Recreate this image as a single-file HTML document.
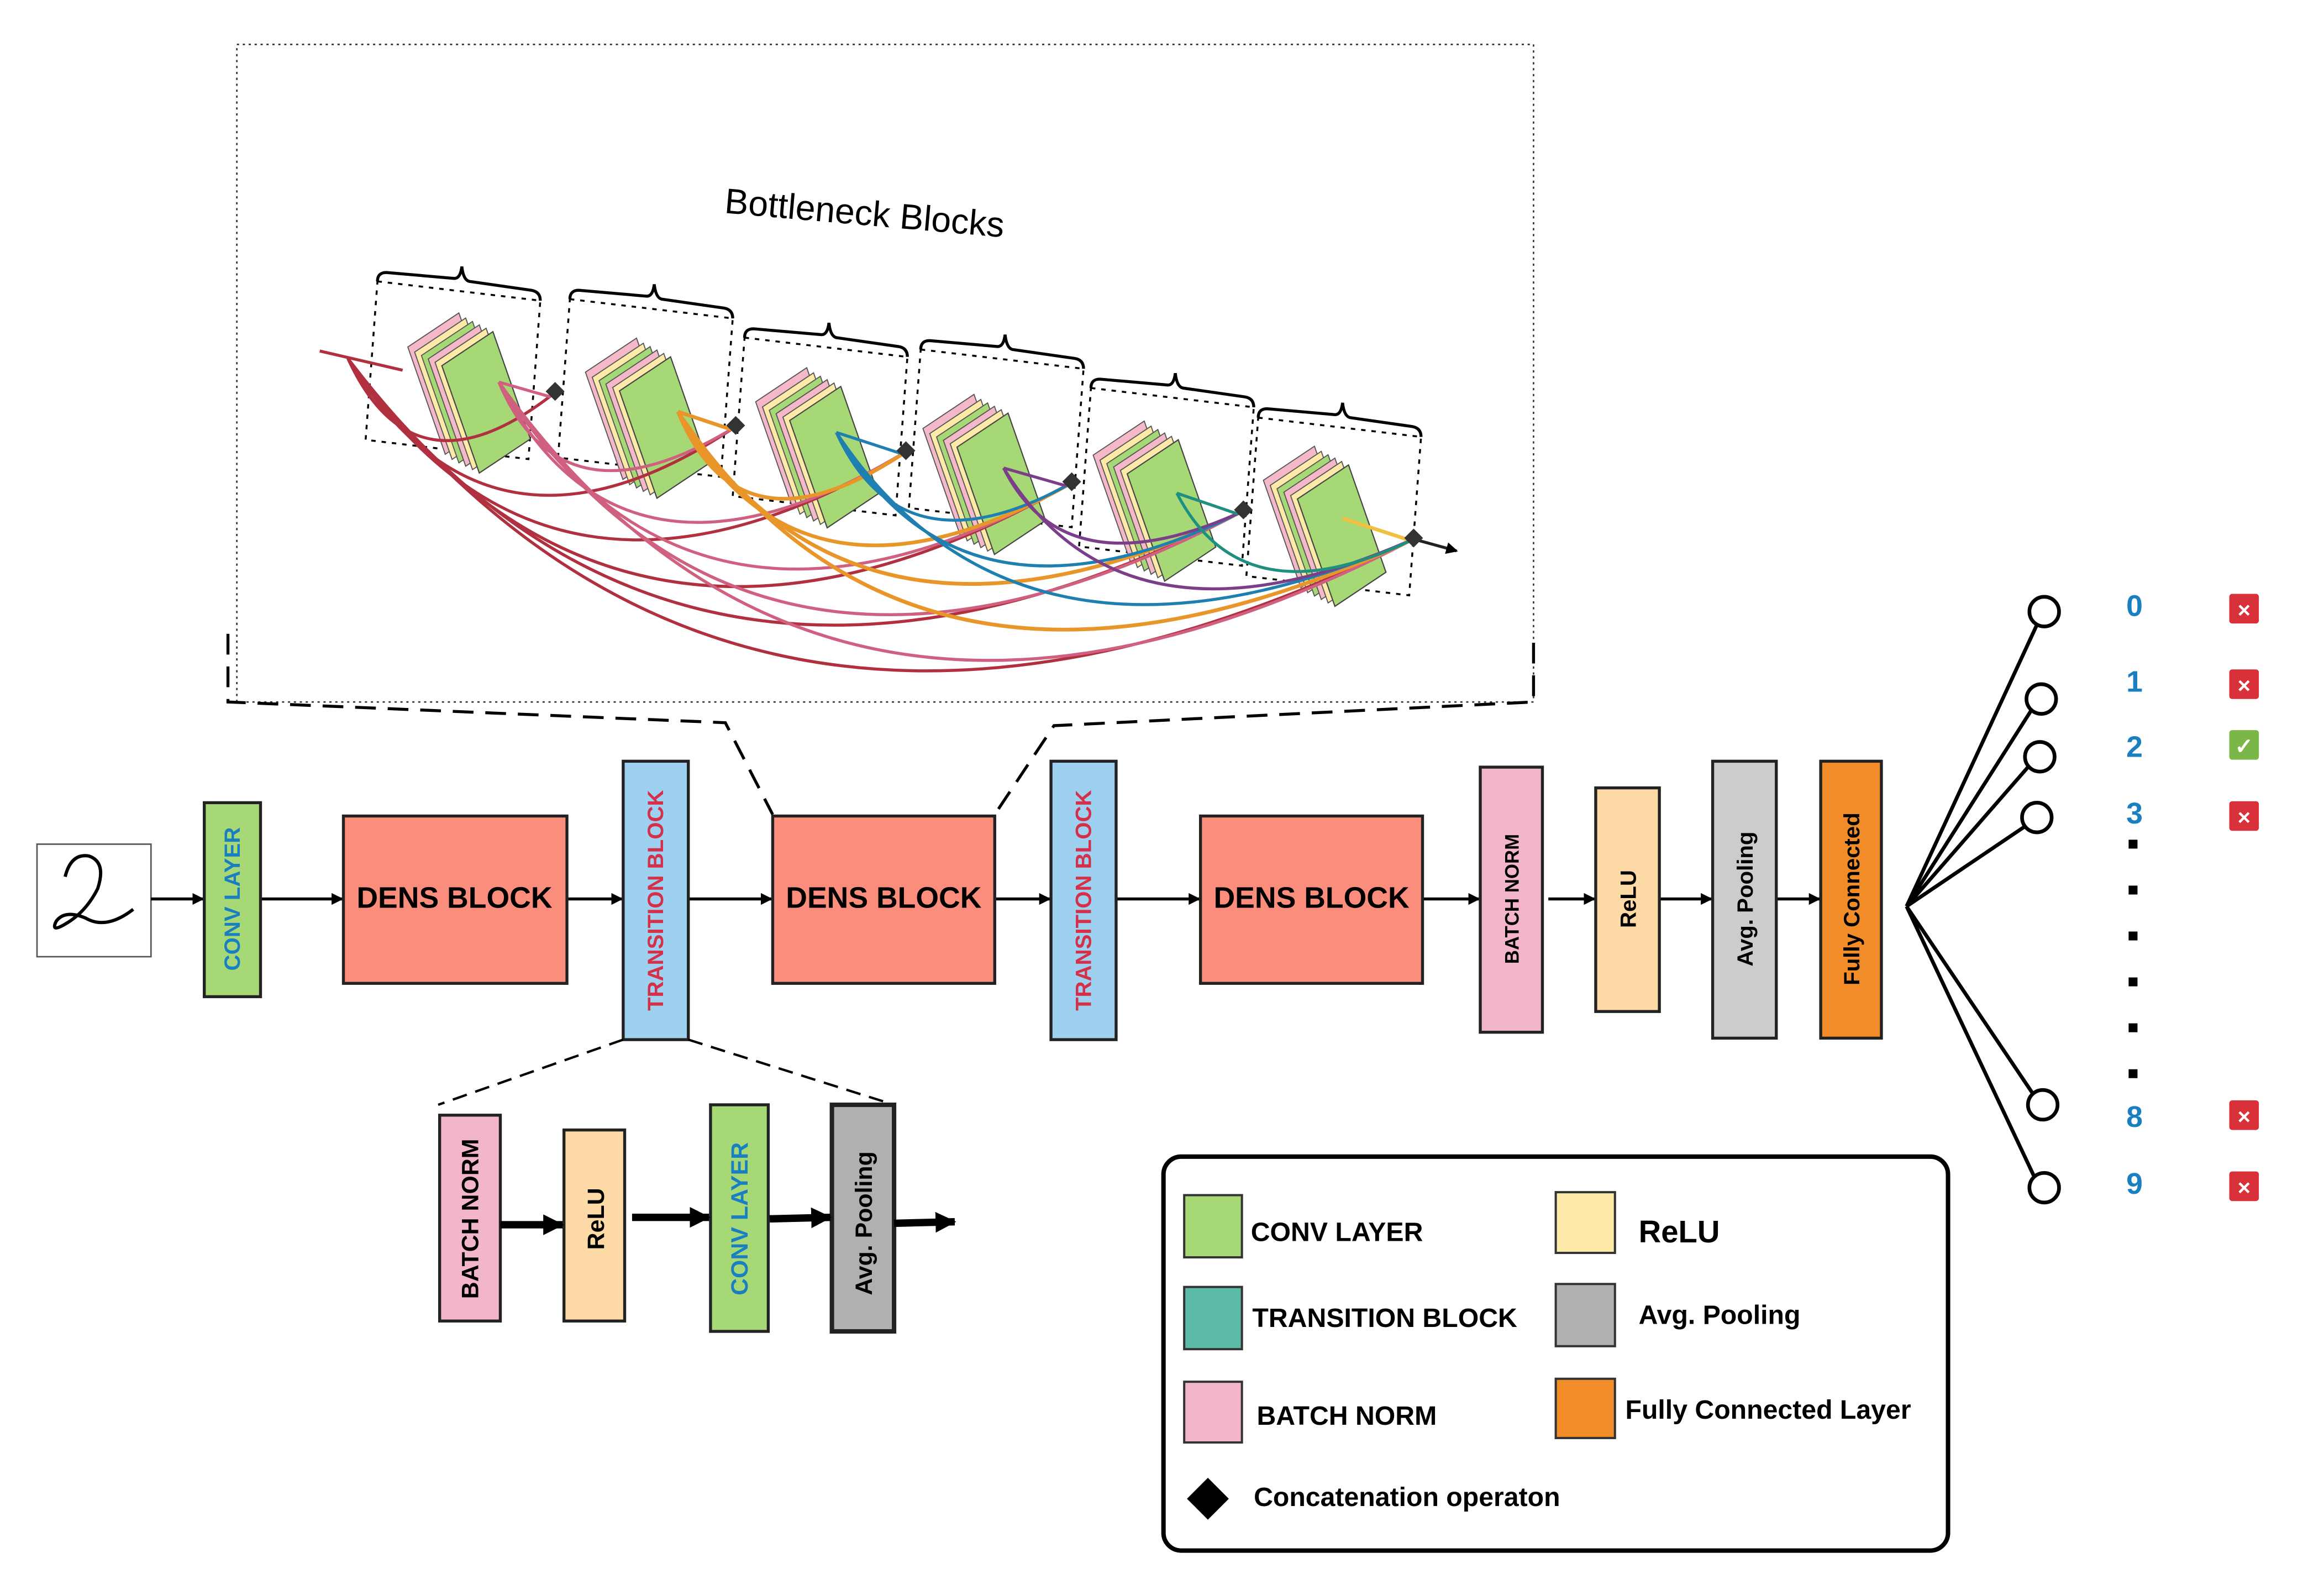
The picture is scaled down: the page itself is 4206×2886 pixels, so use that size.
<!DOCTYPE html>
<html><head><meta charset="utf-8"><style>html,body{margin:0;padding:0;background:#fff}svg{display:block}text{font-family:"Liberation Sans",sans-serif}</style></head><body>
<svg width="4206" height="2886" viewBox="0 0 1570 1077" preserveAspectRatio="none" xmlns="http://www.w3.org/2000/svg">
<defs>
<marker id="ar" markerWidth="8" markerHeight="8" refX="7" refY="4" orient="auto" markerUnits="userSpaceOnUse"><path d="M0,0 L8,4 L0,8z" fill="#000"/></marker>
<marker id="ar2" markerWidth="14" markerHeight="14" refX="13" refY="7" orient="auto" markerUnits="userSpaceOnUse"><path d="M0,0 L14,7 L0,14z" fill="#000"/></marker>
<g id="stack" transform="scale(1.15)">
<polygon points="-30,-18 0,-38 22,25 -8,45" fill="#f4b8c8" stroke="#555" stroke-width="0.6"/>
<polygon points="-26,-15 4,-35 26,28 -4,48" fill="#fde9a8" stroke="#555" stroke-width="0.6"/>
<polygon points="-22,-13 8,-33 30,30 0,50" fill="#a6d976" stroke="#555" stroke-width="0.6"/>
<polygon points="-18,-11 12,-31 34,32 4,52" fill="#f4b8c8" stroke="#555" stroke-width="0.6"/>
<polygon points="-14,-9 16,-29 38,34 8,54" fill="#fde9a8" stroke="#555" stroke-width="0.6"/>
<polygon points="-10,-7 20,-27 42,36 12,56" fill="#a6d976" stroke="#444" stroke-width="0.7"/>
</g>
<g id="frame" fill="none" stroke="#000" stroke-width="1.3">
<polygon points="0,0 110,13 102,120 -8,107" stroke-dasharray="3,4"/>
<path d="M0,0 Q0,-6 6,-6 L52,-2 Q56,-2 57,-10 Q58,-1 62,0 L104,6 Q110,7 110,13" stroke-width="2"/>
</g>
</defs>
<rect width="1570" height="1077" fill="#fff"/>
<rect x="160" y="30" width="876" height="444" fill="none" stroke="#333" stroke-width="1" stroke-dasharray="1.5,2.5"/>
<g fill="none" stroke="#000" stroke-width="2" stroke-dasharray="14,8">
<path d="M154,428 L154,474 L490,488 L522,550"/>
<path d="M1036,434 L1036,474 L712,490 L672,550"/>
</g>
<text x="584" y="152" font-size="24" text-anchor="middle" transform="rotate(5 584 145)">Bottleneck Blocks</text>
<use href="#frame" x="255" y="190"/>
<use href="#frame" x="385" y="202"/>
<use href="#frame" x="503" y="228"/>
<use href="#frame" x="622" y="236"/>
<use href="#frame" x="737" y="262"/>
<use href="#frame" x="850" y="282"/>
<use href="#stack" x="310" y="255"/>
<use href="#stack" x="430" y="272"/>
<use href="#stack" x="545" y="292"/>
<use href="#stack" x="658" y="310"/>
<use href="#stack" x="773" y="328"/>
<use href="#stack" x="888" y="345"/>
<g fill="none" stroke-width="2">
<path d="M216,237 L272,250" stroke="#b03040"/>
<path d="M235,242 Q280,340 375,265" stroke="#b03040"/>
<path d="M235,242 Q330,400 497,288" stroke="#b03040"/>
<path d="M235,242 Q370,450 612,305" stroke="#b03040"/>
<path d="M235,242 Q420,500 724,326" stroke="#b03040"/>
<path d="M235,242 Q460,540 840,345" stroke="#b03040"/>
<path d="M235,242 Q500,590 955,364" stroke="#b03040"/>
<path d="M337,258 L372,268" stroke="#d06080"/>
<path d="M337,258 Q380,360 497,288" stroke="#d06080"/>
<path d="M337,258 Q420,420 612,305" stroke="#d06080"/>
<path d="M337,258 Q470,470 724,326" stroke="#d06080"/>
<path d="M337,258 Q510,520 840,345" stroke="#d06080"/>
<path d="M337,258 Q560,570 955,364" stroke="#d06080"/>
<path d="M458,278 L494,290" stroke="#e8962a" stroke-width="2.5"/>
<path d="M458,278 Q500,380 612,305" stroke="#e8962a" stroke-width="2.5"/>
<path d="M458,278 Q540,430 724,326" stroke="#e8962a" stroke-width="2.5"/>
<path d="M458,278 Q580,470 840,345" stroke="#e8962a" stroke-width="2.5"/>
<path d="M458,278 Q620,520 955,364" stroke="#e8962a" stroke-width="2.5"/>
<path d="M565,292 L608,306" stroke="#1f7fb0"/>
<path d="M565,292 Q610,390 724,326" stroke="#1f7fb0"/>
<path d="M565,292 Q650,440 840,345" stroke="#1f7fb0"/>
<path d="M565,292 Q690,480 955,364" stroke="#1f7fb0"/>
<path d="M678,316 L720,328" stroke="#7b3f8a"/>
<path d="M678,316 Q720,400 840,345" stroke="#7b3f8a"/>
<path d="M678,316 Q760,450 955,364" stroke="#7b3f8a"/>
<path d="M795,333 L836,347" stroke="#1f9080"/>
<path d="M795,333 Q840,420 955,364" stroke="#1f9080"/>
<path d="M907,350 L950,364" stroke="#f0c040" stroke-width="2.5"/>
<path d="M955,364 L984,372" stroke="#222" marker-end="url(#ar)"/>
</g>
<g fill="#333">
<rect x="370" y="260" width="9" height="9" transform="rotate(45 375 265)"/>
<rect x="492" y="283" width="9" height="9" transform="rotate(45 497 288)"/>
<rect x="607" y="300" width="9" height="9" transform="rotate(45 612 305)"/>
<rect x="719" y="321" width="9" height="9" transform="rotate(45 724 326)"/>
<rect x="835" y="340" width="9" height="9" transform="rotate(45 840 345)"/>
<rect x="950" y="359" width="9" height="9" transform="rotate(45 955 364)"/>
</g>
<rect x="25" y="570" width="77" height="76" fill="#fff" stroke="#555" stroke-width="1"/>
<path d="M44,592 Q48,576 60,578 Q72,582 66,600 Q58,616 44,624 Q34,630 38,622 Q44,614 58,620 Q72,628 90,614" fill="none" stroke="#000" stroke-width="2.2"/>
<g stroke="#000" stroke-width="2" marker-end="url(#ar)">
<line x1="102" y1="607" x2="137" y2="607"/>
<line x1="176" y1="607" x2="231" y2="607"/>
<line x1="383" y1="607" x2="420" y2="607"/>
<line x1="465" y1="607" x2="521" y2="607"/>
<line x1="672" y1="607" x2="709" y2="607"/>
<line x1="754" y1="607" x2="810" y2="607"/>
<line x1="961" y1="607" x2="999" y2="607"/>
<line x1="1046" y1="607" x2="1077" y2="607"/>
<line x1="1121" y1="607" x2="1156" y2="607"/>
<line x1="1200" y1="607" x2="1229" y2="607"/>
</g>
<g stroke="#222" stroke-width="2">
<rect x="138" y="542" width="38" height="131" fill="#a6d976"/>
<rect x="232" y="551" width="151" height="113" fill="#fb8d7c"/>
<rect x="421" y="514" width="44" height="188" fill="#9ed0f0"/>
<rect x="522" y="551" width="150" height="113" fill="#fb8d7c"/>
<rect x="710" y="514" width="44" height="188" fill="#9ed0f0"/>
<rect x="811" y="551" width="150" height="113" fill="#fb8d7c"/>
<rect x="1000" y="518" width="42" height="179" fill="#f3b5c8"/>
<rect x="1078" y="532" width="43" height="151" fill="#fdd9a6"/>
<rect x="1157" y="514" width="43" height="187" fill="#cccccc"/>
<rect x="1230" y="514" width="41" height="187" fill="#f28c28"/>
</g>
<g font-weight="bold" font-size="20" text-anchor="middle">
<text x="307" y="613">DENS BLOCK</text>
<text x="597" y="613">DENS BLOCK</text>
<text x="886" y="613">DENS BLOCK</text>
</g>
<g font-weight="bold" font-size="15" text-anchor="middle">
<text transform="translate(162 607) rotate(-90)" fill="#1a7fc0">CONV LAYER</text>
<text transform="translate(448 608) rotate(-90)" fill="#d4304a">TRANSITION BLOCK</text>
<text transform="translate(737 608) rotate(-90)" fill="#d4304a">TRANSITION BLOCK</text>
<text transform="translate(1026 607) rotate(-90)" font-size="13">BATCH NORM</text>
<text transform="translate(1105 607) rotate(-90)">ReLU</text>
<text transform="translate(1184 607) rotate(-90)">Avg. Pooling</text>
<text transform="translate(1256 607) rotate(-90)">Fully Connected</text>
</g>
<g stroke="#000" stroke-width="2.5" fill="#fff">
<line x1="1288" y1="612" x2="1376" y2="422"/>
<line x1="1288" y1="612" x2="1372" y2="480"/>
<line x1="1288" y1="612" x2="1370" y2="518"/>
<line x1="1288" y1="612" x2="1368" y2="558"/>
<line x1="1288" y1="612" x2="1373" y2="738"/>
<line x1="1288" y1="612" x2="1374" y2="794"/>
<circle cx="1381" cy="413" r="10"/>
<circle cx="1379" cy="472" r="10"/>
<circle cx="1378" cy="511" r="10"/>
<circle cx="1376" cy="552" r="10"/>
<circle cx="1380" cy="746" r="10"/>
<circle cx="1381" cy="802" r="10"/>
</g>
<g fill="#000">
<rect x="1438" y="567" width="6" height="6"/><rect x="1438" y="598" width="6" height="6"/>
<rect x="1438" y="629" width="6" height="6"/><rect x="1438" y="660" width="6" height="6"/>
<rect x="1438" y="691" width="6" height="6"/><rect x="1438" y="722" width="6" height="6"/>
</g>
<g fill="#1a7fc0" font-weight="bold" font-size="20" text-anchor="middle">
<text x="1442" y="416">0</text><text x="1442" y="467">1</text><text x="1442" y="511">2</text>
<text x="1442" y="556">3</text><text x="1442" y="761">8</text><text x="1442" y="806">9</text>
</g>
<g font-weight="bold" font-size="15" fill="#fff" text-anchor="middle">
<rect x="1506" y="401" width="20" height="20" rx="2" fill="#d9313a"/><text x="1516" y="417">×</text>
<rect x="1506" y="452" width="20" height="20" rx="2" fill="#d9313a"/><text x="1516" y="468">×</text>
<rect x="1506" y="493" width="20" height="20" rx="2" fill="#7ab648"/><text x="1516" y="509">✓</text>
<rect x="1506" y="541" width="20" height="20" rx="2" fill="#d9313a"/><text x="1516" y="557">×</text>
<rect x="1506" y="743" width="20" height="20" rx="2" fill="#d9313a"/><text x="1516" y="759">×</text>
<rect x="1506" y="791" width="20" height="20" rx="2" fill="#d9313a"/><text x="1516" y="807">×</text>
</g>
<g fill="none" stroke="#000" stroke-width="1.6" stroke-dasharray="10,6">
<path d="M421,702 L296,746"/><path d="M465,702 L604,746"/>
</g>
<g stroke="#222" stroke-width="2">
<rect x="297" y="753" width="41" height="139" fill="#f3b5c8"/>
<rect x="381" y="763" width="41" height="129" fill="#fdd9a6"/>
<rect x="480" y="746" width="39" height="153" fill="#a6d976"/>
<rect x="562" y="746" width="42" height="153" fill="#b0b0b0" stroke-width="3"/>
</g>
<g stroke="#000" stroke-width="5" marker-end="url(#ar2)">
<line x1="338" y1="827" x2="380" y2="827"/>
<line x1="427" y1="822" x2="479" y2="822"/>
<line x1="520" y1="823" x2="561" y2="822"/>
<line x1="604" y1="826" x2="645" y2="825"/>
</g>
<g font-weight="bold" font-size="16" text-anchor="middle">
<text transform="translate(323 823) rotate(-90)">BATCH NORM</text>
<text transform="translate(408 823) rotate(-90)">ReLU</text>
<text transform="translate(505 823) rotate(-90)" fill="#1a7fc0">CONV LAYER</text>
<text transform="translate(589 826) rotate(-90)">Avg. Pooling</text>
</g>
<rect x="786" y="781" width="530" height="266" rx="12" fill="#fff" stroke="#000" stroke-width="3"/>
<g stroke="#333" stroke-width="1.5">
<rect x="800" y="807" width="39" height="42" fill="#a6d976"/>
<rect x="800" y="869" width="39" height="42" fill="#5cbaa8"/>
<rect x="800" y="933" width="39" height="41" fill="#f3b5c8"/>
<rect x="1051" y="805" width="40" height="41" fill="#fde9a8"/>
<rect x="1051" y="867" width="40" height="42" fill="#b0b0b0"/>
<rect x="1051" y="931" width="40" height="40" fill="#f28c28"/>
</g>
<rect x="806" y="1002" width="20" height="20" fill="#000" transform="rotate(45 816 1012)"/>
<g font-weight="bold" font-size="18">
<text x="845" y="838">CONV LAYER</text>
<text x="846" y="896">TRANSITION BLOCK</text>
<text x="849" y="962">BATCH NORM</text>
<text x="847" y="1017">Concatenation operaton</text>
<text x="1107" y="839" font-size="21">ReLU</text>
<text x="1107" y="894">Avg. Pooling</text>
<text x="1098" y="958">Fully Connected Layer</text>
</g>
</svg>
</body></html>
